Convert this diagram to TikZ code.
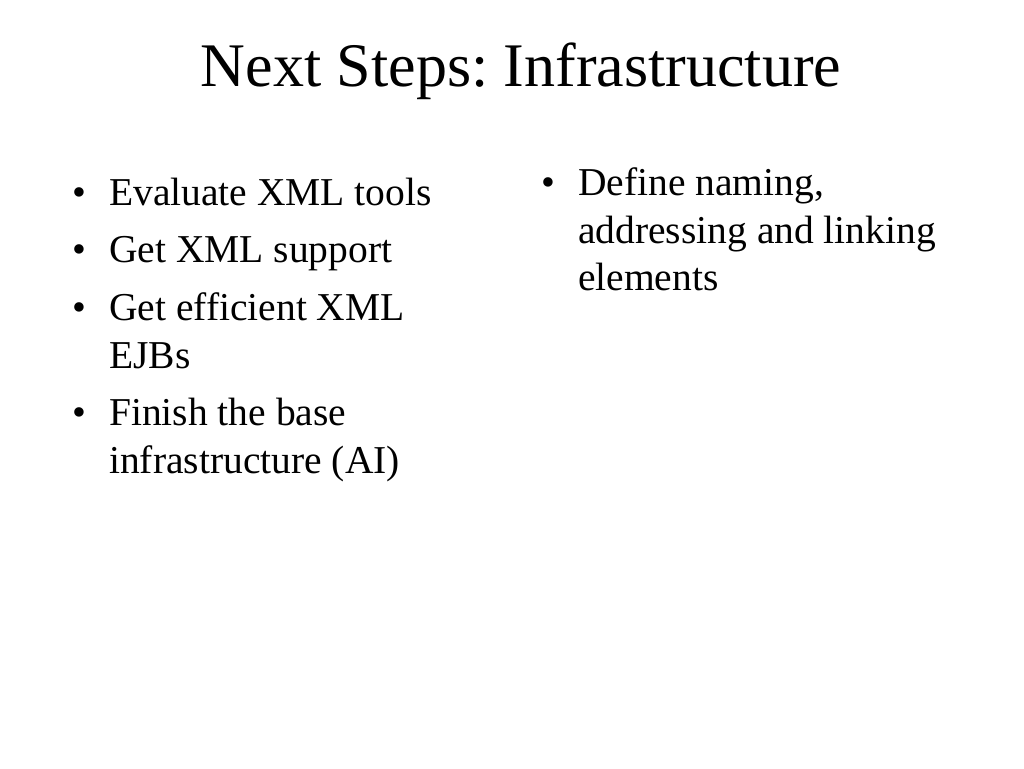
\documentclass[tikz,border=0pt]{standalone}
\usepackage{fontspec}
\setmainfont{Liberation Serif}
\frenchspacing
\tikzset{%
	slidetitle/.style = {anchor=base, inner sep=0pt, font=\fontsize{62}{74}\selectfont}, % Title
	itemline/.style   = {anchor=base west, inner sep=0pt, font=\fontsize{39.5}{47.4}\selectfont}, % Text line
	bulletdot/.style  = {anchor=base west, inner sep=0pt, font=\fontsize{39.5}{47.4}\selectfont}, % Bullet
}

\begin{document}
\begin{tikzpicture}[x=1pt,y=-1pt]
	\fill[white] (0,0) rectangle (1024,768);
	\useasboundingbox (0,0) rectangle (1024,768);

	\node [slidetitle] (T) at (521,86) {Next Steps: Infrastructure};

	% left column
	\node [bulletdot] (B1) at (72,205) {\textbullet};
	\node [itemline] (L1) at (109,205) {Evaluate XML tools};
	\node [bulletdot] (B2) at (72,262) {\textbullet};
	\node [itemline] (L2) at (109,262) {Get XML support};
	\node [bulletdot] (B3) at (72,320) {\textbullet};
	\node [itemline] (L3a) at (109,320) {Get efficient XML};
	\node [itemline] (L3b) at (109,368) {EJBs};
	\node [bulletdot] (B4) at (72,425) {\textbullet};
	\node [itemline] (L4a) at (109,425) {Finish the base};
	\node [itemline] (L4b) at (109,473) {infrastructure (AI)};

	% right column
	\node [bulletdot] (B5) at (541,195) {\textbullet};
	\node [itemline] (R1a) at (578,195) {Define naming,};
	\node [itemline] (R1b) at (578,243) {addressing and linking};
	\node [itemline] (R1c) at (578,290) {elements};
\end{tikzpicture}
\end{document}
